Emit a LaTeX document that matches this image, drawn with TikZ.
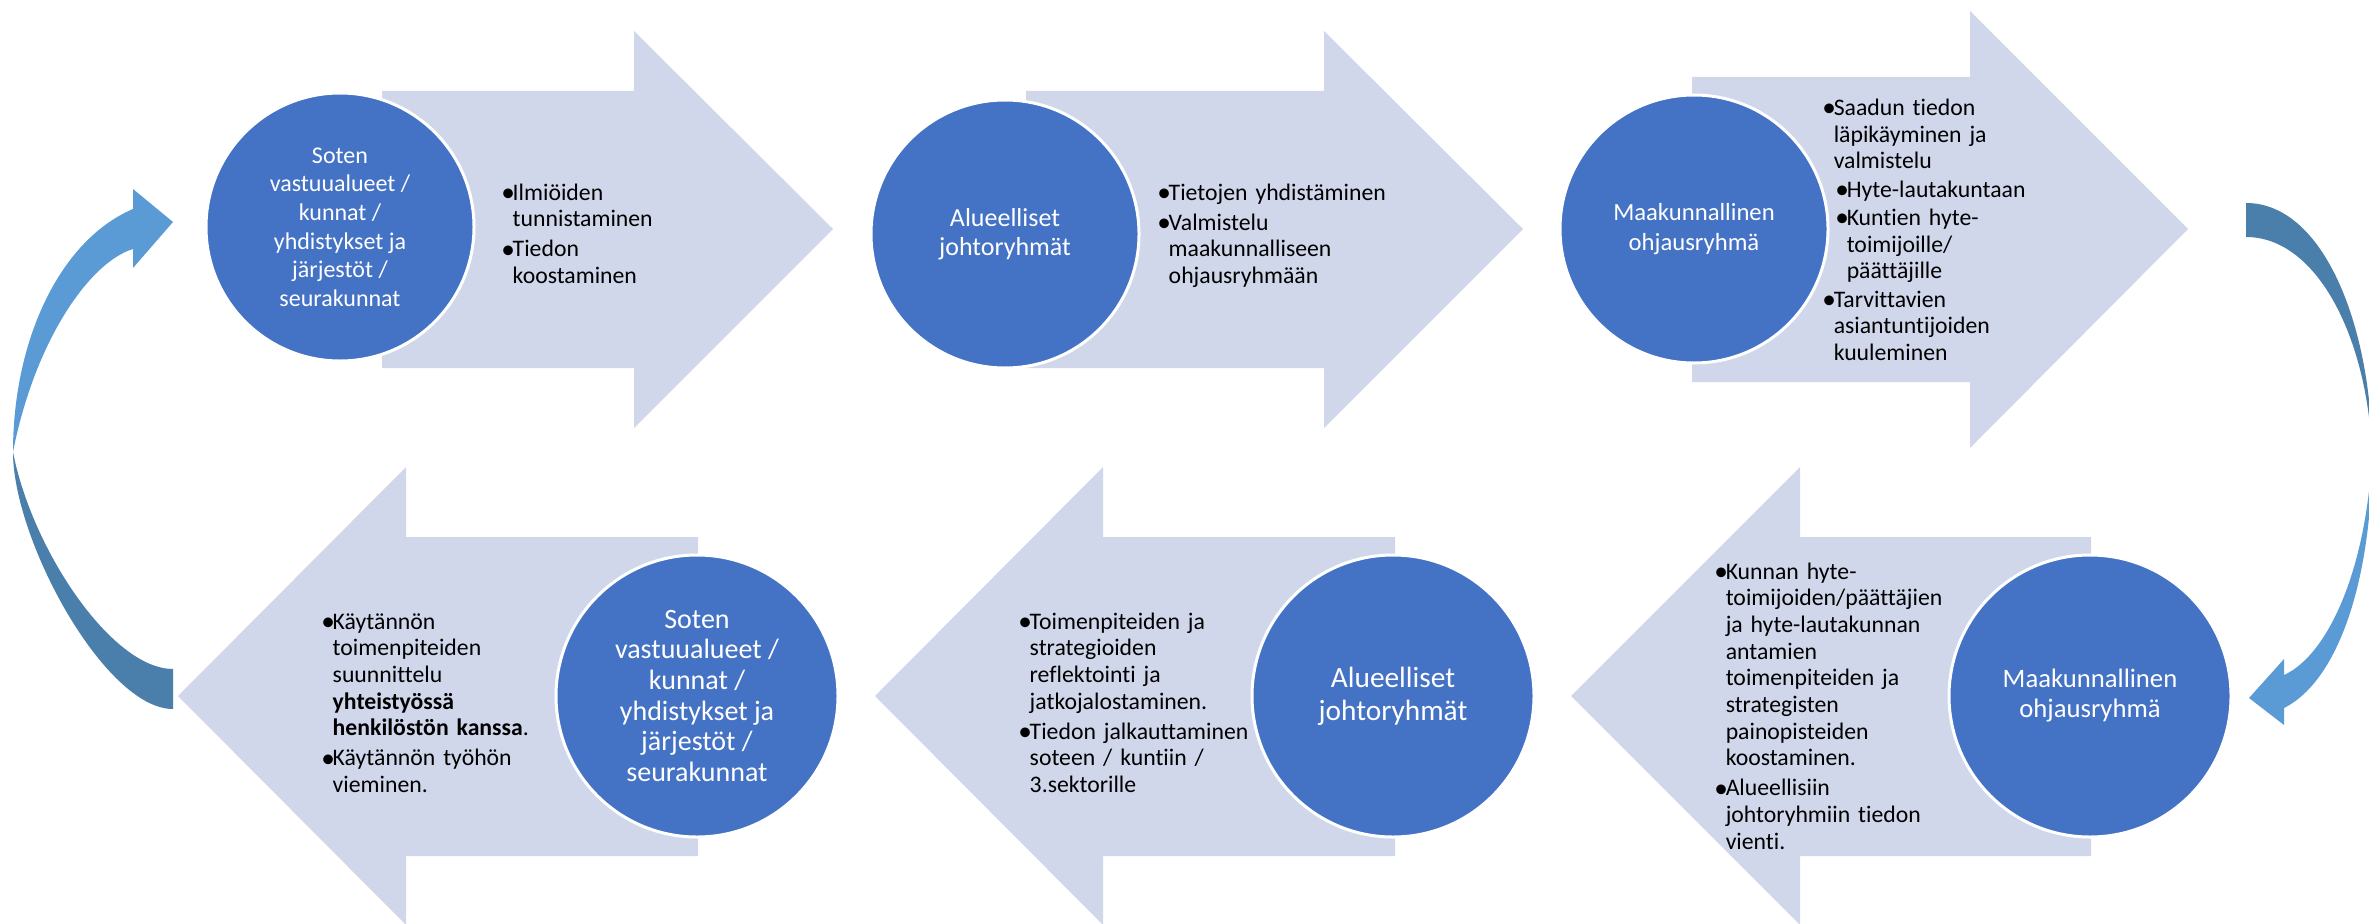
\documentclass[tikz,border=0pt]{standalone}
\usepackage{fontspec}
\setmainfont{Carlito}[Ligatures=NoCommon]
\definecolor{arrowfill}{RGB}{208,215,235}
\definecolor{circfill}{HTML}{4472C4}
\definecolor{curvelight}{HTML}{5B9BD5}
\definecolor{curvedark}{HTML}{4A7EAB}
\newcommand{\bulmark}{\raisebox{-0.05em}{\scalebox{1.15}{•}}}
\newcommand{\bul}[1]{\par\hangindent=8.6pt\hangafter=1\noindent\makebox[8.6pt][l]{\bulmark}\strut#1\par}
\newcommand{\subbul}[1]{\par\leftskip=9.75pt\hangindent=8.6pt\hangafter=1\noindent\makebox[8.6pt][l]{\bulmark}\strut#1\par\leftskip=0pt}
\begin{document}
\begin{tikzpicture}[x=0.75pt,y=-0.75pt,
  arrowshape/.style={fill=arrowfill},
  circ/.style={circle, fill=circfill, draw=white, line width=2.25pt, inner sep=0pt, text=white, align=center},
  topcirc/.style={circ, minimum size=201pt},
  botcirc/.style={circ, minimum size=211.5pt},
  bultext/.style={anchor=north west, inner sep=0pt, text width=200pt, align=left, font=\fontsize{17.8pt}{20pt}\selectfont},
  cdark/.style={fill=curvedark},
  clight/.style={fill=curvelight}]
\useasboundingbox (0,0) rectangle (2369,924);
\begin{scope}
\clip (0,0) rectangle (2369,924);
% top row arrows
\fill[arrowshape] (382,91) -- (634,91) -- (634,31) -- (833,229) -- (634,428) -- (634,368) -- (382,368) -- cycle;
\fill[arrowshape] (1026,91) -- (1324,91) -- (1324,31) -- (1523,229) -- (1324,428) -- (1324,368) -- (1026,368) -- cycle;
\fill[arrowshape] (1692,77) -- (1970,77) -- (1970,11) -- (2188,229) -- (1970,448) -- (1970,382) -- (1692,382) -- cycle;
% bottom row arrows
\fill[arrowshape] (698,537) -- (406,537) -- (406,467) -- (178,696) -- (406,925) -- (406,856) -- (698,856) -- cycle;
\fill[arrowshape] (1395,537) -- (1103,537) -- (1103,467) -- (875,696) -- (1103,925) -- (1103,856) -- (1395,856) -- cycle;
\fill[arrowshape] (2091,537) -- (1800,537) -- (1800,467) -- (1571,696) -- (1800,925) -- (1800,856) -- (2091,856) -- cycle;
% left curved arrow
\fill[cdark] (13,452) .. controls (13,540) and (105,709) .. (173,709) -- (173,669) .. controls (112,669) and (32,550) .. (13,452) -- cycle;
\fill[clight] (13,452) .. controls (13,340) and (60,240) .. (133,209) -- (133,189) -- (173,222) -- (133,268) -- (133,249) .. controls (90,262) and (35,340) .. (13,452) -- cycle;
% right curved arrow
\fill[cdark] (2246,203) .. controls (2325,203) and (2372,330) .. (2372,455) .. controls (2368,340) and (2318,237) .. (2246,237) -- cycle;
\fill[clight] (2372,455) .. controls (2372,575) and (2340,680) .. (2284,708) -- (2284,725) -- (2249,698) -- (2284,659) -- (2284,675) .. controls (2328,655) and (2366,570) .. (2372,455) -- cycle;
\end{scope}
% circles
\node[topcirc, font=\fontsize{18pt}{21.5pt}\selectfont] (c1) at (340,227) {Soten\\vastuualueet /\\kunnat /\\yhdistykset ja\\järjestöt /\\seurakunnat};
\node[topcirc, font=\fontsize{19.5pt}{21.5pt}\selectfont] (c2) at (1005,234) {Alueelliset\\johtoryhmät};
\node[topcirc, font=\fontsize{18.5pt}{22pt}\selectfont] (c3) at (1694,229) {Maakunnallinen\\ohjausryhmä};
\node[botcirc, font=\fontsize{21pt}{23pt}\selectfont] (c4) at (697,696) {Soten\\vastuualueet /\\kunnat /\\yhdistykset ja\\järjestöt /\\seurakunnat};
\node[botcirc, font=\fontsize{22pt}{24.5pt}\selectfont] (c5) at (1393,696) {Alueelliset\\johtoryhmät};
\node[botcirc, font=\fontsize{20pt}{22.5pt}\selectfont] (c6) at (2090,696) {Maakunnallinen\\ohjausryhmä};
% bullet texts
\node[bultext] (t1) at (501,170) {\setlength{\parskip}{2.5pt}\bul{Ilmiöiden\newline tunnistaminen}\bul{Tiedon\newline koostaminen}};
\node[bultext] (t2) at (1157,170) {\setlength{\parskip}{2.5pt}\bul{Tietojen yhdistäminen}\bul{Valmistelu\newline maakunnalliseen\newline ohjausryhmään}};
\node[bultext] (t3) at (1822,87) {\setlength{\parskip}{1.25pt}\bul{Saadun tiedon\newline läpikäyminen ja\newline valmistelu}\subbul{Hyte-lautakuntaan}\subbul{Kuntien hyte-\newline toimijoille/\newline päättäjille}\bul{Tarvittavien\newline asiantuntijoiden\newline kuuleminen}};
\node[bultext] (t4) at (321,599) {\setlength{\parskip}{2.5pt}\bul{Käytännön\newline toimenpiteiden\newline suunnittelu\newline \textbf{yhteistyössä}\newline \textbf{henkilöstön kanssa}.}\bul{Käytännön työhön\newline vieminen.}};
\node[bultext] (t5) at (1018,599) {\setlength{\parskip}{2.5pt}\bul{Toimenpiteiden ja\newline strategioiden\newline reflektointi ja\newline jatkojalostaminen.}\bul{Tiedon jalkauttaminen\newline soteen / kuntiin /\newline 3.sektorille}};
\node[bultext] (t6) at (1714,549) {\setlength{\parskip}{2.5pt}\bul{Kunnan hyte-\newline toimijoiden/päättäjien\newline ja hyte-lautakunnan\newline antamien\newline toimenpiteiden ja\newline strategisten\newline painopisteiden\newline koostaminen.}\bul{Alueellisiin\newline johtoryhmiin tiedon\newline vienti.}};
\end{tikzpicture}
\end{document}
